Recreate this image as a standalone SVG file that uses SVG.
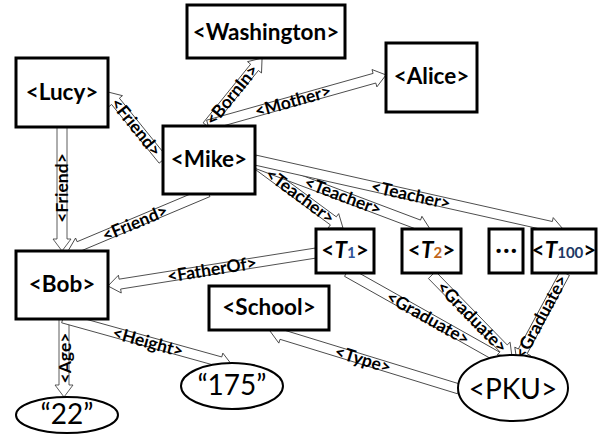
<svg xmlns="http://www.w3.org/2000/svg" width="605" height="437" viewBox="0 0 605 437">
<style>
.box{fill:#fff;stroke:#000;stroke-width:3}
.ell{fill:#fff;stroke:#000;stroke-width:2}
.nt{font-family:Lato,"Liberation Sans",sans-serif;font-weight:bold;font-size:22.5px;text-anchor:middle;fill:#000}
.et{font-family:Lato,"Liberation Sans",sans-serif;font-weight:normal;font-size:28px;text-anchor:middle;fill:#000}
.arr{fill:#fff;stroke:#333;stroke-width:0.8;stroke-linejoin:miter}
.lb{font-family:Lato,"Liberation Sans",sans-serif;font-weight:bold;font-size:17.5px;text-anchor:middle;fill:#000}
</style>
<rect width="605" height="437" fill="#fff"/>
<g id="connectors">
<g transform="translate(207,126) rotate(-51)"><path class="arr" d="M0,-5H75.5V-9L87.5,0L75.5,9V5H0Z"/></g>
<g transform="translate(208,125) rotate(-15.7)"><path class="arr" d="M0,-5H172.9V-9L184.9,0L172.9,9V5H0Z"/></g>
<g transform="translate(163,160) rotate(-129)"><path class="arr" d="M0,-5H75.5V-9L87.5,0L75.5,9V5H0Z"/></g>
<g transform="translate(62,127) rotate(90)"><path class="arr" d="M0,-5H112V-9L124,0L112,9V5H0Z"/></g>
<g transform="translate(208,192) rotate(157.15)"><path class="arr" d="M0,-5H139.9V-9L151.9,0L139.9,9V5H0Z"/></g>
<g transform="translate(255,163) rotate(36.45)"><path class="arr" d="M0,-5H97.4V-9L109.4,0L97.4,9V5H0Z"/></g>
<g transform="translate(255,163) rotate(20.66)"><path class="arr" d="M0,-5H175V-9L187,0L175,9V5H0Z"/></g>
<g transform="translate(255,160) rotate(12.63)"><path class="arr" d="M0,-5H303.6V-9L315.6,0L303.6,9V5H0Z"/></g>
<g transform="translate(316,253) rotate(170.99)"><path class="arr" d="M0,-5H198.6V-9L210.6,0L198.6,9V5H0Z"/></g>
<g transform="translate(347,272) rotate(29.36)"><path class="arr" d="M0,-5H171.6V-9L183.6,0L171.6,9V5H0Z"/></g>
<g transform="translate(432,275) rotate(45.71)"><path class="arr" d="M0,-5H102.6V-9L114.6,0L102.6,9V5H0Z"/></g>
<g transform="translate(565,273) rotate(118.34)"><path class="arr" d="M0,-5H89.1V-9L101.1,0L89.1,9V5H0Z"/></g>
<g transform="translate(459,389) rotate(-162.94)"><path class="arr" d="M0,-5H185.7V-9L197.7,0L185.7,9V5H0Z"/></g>
<g transform="translate(64,319) rotate(90)"><path class="arr" d="M0,-5H66V-9L78,0L66,9V5H0Z"/></g>
<g transform="translate(63,318) rotate(15.54)"><path class="arr" d="M0,-5H163.4V-9L175.4,0L163.4,9V5H0Z"/></g>
<text class="lb" transform="translate(232,95) rotate(-51)" dy="6">&lt;BornIn&gt;</text>
<text class="lb" transform="translate(293,101) rotate(-15.7)" dy="6">&lt;Mother&gt;</text>
<text class="lb" transform="translate(136,127) rotate(51)" dy="6">&lt;Friend&gt;</text>
<text class="lb" transform="translate(62,188) rotate(-90)" dy="6">&lt;Friend&gt;</text>
<text class="lb" transform="translate(135,223) rotate(-22.85)" dy="6">&lt;Friend&gt;</text>
<text class="lb" transform="translate(300,196) rotate(36.45)" dy="6">&lt;Teacher&gt;</text>
<text class="lb" transform="translate(343,196) rotate(20.66)" dy="6">&lt;Teacher&gt;</text>
<text class="lb" transform="translate(411,195) rotate(12.63)" dy="6">&lt;Teacher&gt;</text>
<text class="lb" transform="translate(212,269.5) rotate(-9)" dy="6">&lt;FatherOf&gt;</text>
<text class="lb" transform="translate(428,318) rotate(29.36)" dy="6">&lt;Graduate&gt;</text>
<text class="lb" transform="translate(472,317) rotate(45.71)" dy="6">&lt;Graduate&gt;</text>
<text class="lb" transform="translate(541,317) rotate(-61.66)" dy="6">&lt;Graduate&gt;</text>
<text class="lb" transform="translate(363,359.5) rotate(17.06)" dy="6">&lt;Type&gt;</text>
<text class="lb" transform="translate(65,358) rotate(-90)" dy="6">&lt;Age&gt;</text>
<text class="lb" transform="translate(148,342) rotate(15.54)" dy="6">&lt;Height&gt;</text>
</g>
<g id="washington"><rect class="box" x="187" y="5" width="158" height="53"/><text class="nt" x="266" y="40">&lt;Washington&gt;</text></g>
<g id="alice"><rect class="box" x="386" y="43" width="91" height="69"/><text class="nt" x="431.5" y="84">&lt;Alice&gt;</text></g>
<g id="lucy"><rect class="box" x="16" y="58" width="92" height="69"/><text class="nt" x="62" y="100">&lt;Lucy&gt;</text></g>
<g id="mike"><rect class="box" x="163" y="126" width="92" height="68"/><text class="nt" x="209" y="167">&lt;Mike&gt;</text></g>
<g id="bob"><rect class="box" x="16" y="251" width="92" height="68"/><text class="nt" x="62" y="292">&lt;Bob&gt;</text></g>
<g id="school"><rect class="box" x="209" y="286" width="120" height="44"/><text class="nt" x="269" y="315">&lt;School&gt;</text></g>
<g id="t1"><rect class="box" x="316" y="229" width="58" height="44"/><text class="nt" x="345" y="258">&lt;<tspan font-style="italic">T</tspan><tspan font-size="15" fill="#2f5496">1</tspan>&gt;</text></g>
<g id="t2"><rect class="box" x="402" y="229" width="59" height="44"/><text class="nt" x="431.5" y="258">&lt;<tspan font-style="italic">T</tspan><tspan font-size="15" fill="#c0651a">2</tspan>&gt;</text></g>
<g id="dots"><rect class="box" x="489" y="229" width="34" height="44"/><text class="nt" x="507" y="258" font-size="26" letter-spacing="1.5">···</text></g>
<g id="t100"><rect class="box" x="532" y="229" width="64" height="44"/><text class="nt" x="564" y="258">&lt;<tspan font-style="italic">T</tspan><tspan font-size="15" fill="#203864">100</tspan>&gt;</text></g>
<g id="pku"><ellipse class="ell" cx="513" cy="388" rx="55" ry="33"/><text class="et" x="513" y="399">&lt;PKU&gt;</text></g>
<g id="v175"><ellipse class="ell" cx="232" cy="386" rx="51" ry="23"/><text class="et" x="232" y="395">“175”</text></g>
<g id="v22"><ellipse class="ell" cx="67" cy="415" rx="51" ry="18"/><text class="et" x="67" y="424">“22”</text></g>
</svg>
